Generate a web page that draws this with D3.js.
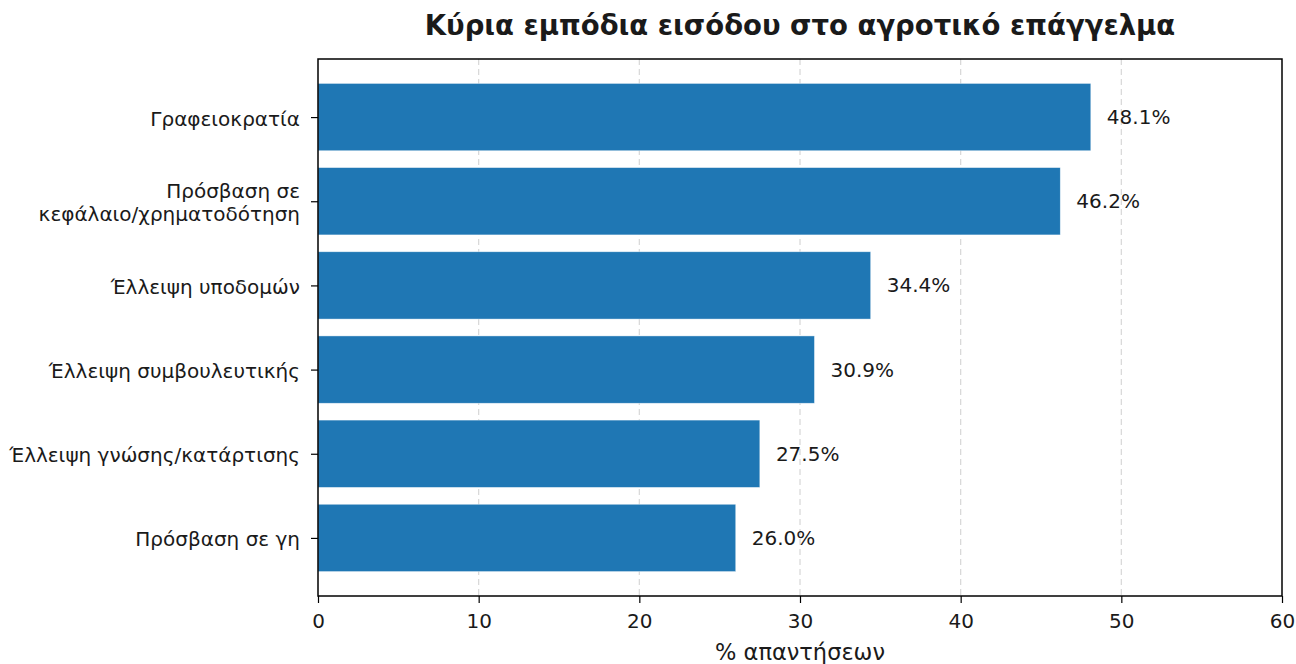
<!DOCTYPE html>
<html><head><meta charset="utf-8">
<script src="https://cdn.jsdelivr.net/npm/d3@7"></script>
<style>body{margin:0;background:#fff}svg{display:block}text{font-family:"DejaVu Sans",sans-serif;fill:#1a1a1a}</style>
</head><body><svg id="c" width="1296" height="664"></svg>
<script>
const categories = ["Γραφειοκρατία", "Πρόσβαση σε\nκεφάλαιο/χρηματοδότηση", "Έλλειψη υποδομών", "Έλλειψη συμβουλευτικής", "Έλλειψη γνώσης/κατάρτισης", "Πρόσβαση σε γη"];
const values = [48.1, 46.2, 34.4, 30.9, 27.5, 26.0];
const xTicks = [0, 10, 20, 30, 40, 50, 60];
const title = "Κύρια εμπόδια εισόδου στο αγροτικό επάγγελμα";
const xLabel = "% απαντήσεων";

const svg = d3.select("#c");
const L = 318, R = 1282, T = 59, B = 596;
const FS = 20;
const x = d3.scaleLinear().domain([0, 60]).range([L, R]);
const y = d3.scaleLinear().domain([-0.69, 5.69]).range([T, B]);
const bh = 0.8;

// grid
svg.append("g").selectAll("line").data(xTicks.slice(1, -1)).join("line")
  .attr("x1", d => x(d)).attr("x2", d => x(d)).attr("y1", T).attr("y2", B)
  .attr("stroke", "#b0b0b0").attr("stroke-opacity", 0.5).attr("stroke-width", 1.2).attr("stroke-dasharray", "6,4");

// bars
svg.append("g").selectAll("rect").data(values).join("rect")
  .attr("x", x(0)).attr("y", (d, i) => y(i - bh / 2))
  .attr("width", d => x(d) - x(0)).attr("height", (d, i) => y(i + bh / 2) - y(i - bh / 2))
  .attr("fill", "#1f77b4").attr("stroke", "#ffffff").attr("stroke-opacity", 0.6).attr("stroke-width", 0.7);

// value labels
svg.append("g").selectAll("text").data(values).join("text")
  .attr("x", d => x(d + 1)).attr("y", (d, i) => y(i)).attr("dy", "0.35em")
  .attr("font-size", FS).text(d => d.toFixed(1) + "%");

// x axis
const xa = svg.append("g").attr("transform", `translate(0,${B})`)
  .call(d3.axisBottom(x).tickValues(xTicks).tickSize(7).tickPadding(11).tickFormat(d3.format("d")));
xa.select(".domain").remove();
xa.selectAll("line").attr("stroke", "#000").attr("stroke-width", 1.2);
xa.selectAll("text").attr("font-size", FS).attr("font-family", "DejaVu Sans").attr("fill", "#1a1a1a");

// y axis
const ya = svg.append("g").attr("transform", `translate(${L},0)`)
  .call(d3.axisLeft(y).tickValues(d3.range(categories.length)).tickSize(7).tickPadding(6).tickFormat(""));
ya.select(".domain").remove();
ya.selectAll("line").attr("stroke", "#000").attr("stroke-width", 1.2);
ya.selectAll(".tick").each(function(d) {
  const lines = categories[d].split("\n");
  const t = d3.select(this).append("text").attr("x", -18).attr("text-anchor", "end")
    .attr("font-size", FS).attr("fill", "#1a1a1a").attr("font-family", "DejaVu Sans");
  const lh = 23;
  lines.forEach((ln, k) => {
    t.append("tspan").attr("x", -18).attr("y", (k - (lines.length - 1) / 2) * lh + 1).attr("dy", "0.35em").text(ln);
  });
});

// frame
svg.append("rect").attr("x", L).attr("y", T).attr("width", R - L).attr("height", B - T)
  .attr("fill", "none").attr("stroke", "#000").attr("stroke-width", 1.5);

// title & xlabel
svg.append("text").attr("x", (L + R) / 2 - 0).attr("y", 35).attr("text-anchor", "middle")
  .attr("font-size", 27.5).attr("font-weight", "bold").attr("font-family", "DejaVu Sans")
  .attr("fill", "#000").text(title);
svg.append("text").attr("x", (L + R) / 2).attr("y", 660).attr("text-anchor", "middle")
  .attr("font-size", 22.5).text(xLabel);
</script></body></html>
